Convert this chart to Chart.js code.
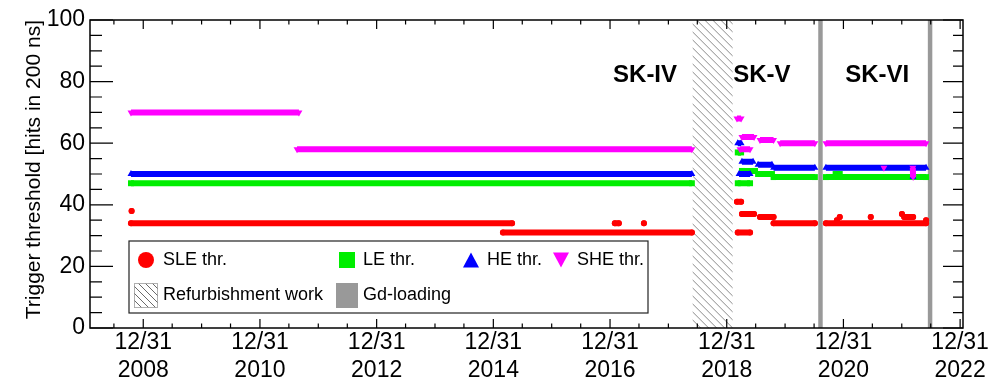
<!DOCTYPE html>
<html>
<head>
<meta charset="utf-8">
<script src="https://cdn.jsdelivr.net/npm/chart.js@4.4.1/dist/chart.umd.min.js"></script>
<style>
  html, body { margin: 0; padding: 0; background: #fff; }
</style>
</head>
<body>
<canvas id="chart" width="997" height="382"></canvas>
<script>
// Axis range and tick labels
const xStart = '2008-02-01';
const xEnd = '2023-01-18';
const tickDates = ['2008-12-31', '2010-12-31', '2012-12-31', '2014-12-31', '2016-12-31', '2018-12-31', '2020-12-31', '2022-12-31'];
const tickYears = ['2008', '2010', '2012', '2014', '2016', '2018', '2020', '2022'];

// Trigger thresholds; a null ends a stretch of constant setting
const sleDates = [
    '2008-10-19', null,
    '2008-10-15', '2015-04-27', null,
    '2015-03-01', '2018-05-27', null,
    '2017-01-30', '2017-02-24', null,
    '2017-07-31', null,
    '2019-03-10', '2019-05-26', null,
    '2019-03-05', '2019-03-31', null,
    '2019-04-05', '2019-06-20', null,
    '2019-07-27', '2019-10-20', null,
    '2019-10-20', '2020-07-05', null,
    '2020-09-12', '2022-06-01', null,
    '2020-11-20', null,
    '2020-12-08', null,
    '2021-06-20', null,
    '2022-01-01', null,
    '2022-01-15', '2022-03-12', null,
    '2022-06-01'
];
const sleValues = [
    38, null,
    34, 34, null,
    31, 31, null,
    34, 34, null,
    34, null,
    31, 31, null,
    41, 41, null,
    37, 37, null,
    36, 36, null,
    34, 34, null,
    34, 34, null,
    35, null,
    36, null,
    36, null,
    37, null,
    36, 36, null,
    35
];

const leDates = [
    '2008-10-15', '2018-05-27', null,
    '2019-03-10', '2019-03-31', null,
    '2019-03-10', '2019-05-26', null,
    '2019-04-05', '2019-06-26', null,
    '2019-07-15', '2019-10-10', null,
    '2019-10-20', '2020-07-05', null,
    '2020-09-12', '2022-06-01', null,
    '2020-11-12', '2020-12-08'
];
const leValues = [
    47, 47, null,
    57, 57, null,
    47, 47, null,
    51, 51, null,
    50, 50, null,
    49, 49, null,
    49, 49, null,
    50, 50
];

const heDates = [
    '2008-10-15', '2018-05-27', null,
    '2019-03-10', '2019-03-31', null,
    '2019-03-18', '2019-05-26', null,
    '2019-04-05', '2019-06-14', null,
    '2019-07-15', '2019-10-10', null,
    '2019-10-20', '2020-07-05', null,
    '2020-09-12', '2022-06-01', null,
    '2022-03-11'
];
const heValues = [
    50, 50, null,
    60, 60, null,
    50, 50, null,
    54, 54, null,
    53, 53, null,
    52, 52, null,
    52, 52, null,
    49
];

const sheDates = [
    '2008-10-15', '2011-09-01', null,
    '2011-08-20', '2018-05-27', null,
    '2019-03-05', '2019-03-31', null,
    '2019-03-24', '2019-05-26', null,
    '2019-04-05', '2019-06-20', null,
    '2019-07-27', '2019-10-20', null,
    '2019-11-30', '2020-07-05', null,
    '2020-09-12', '2022-06-01', null,
    '2021-09-10', null,
    '2022-03-10', '2022-03-12'
];
const sheValues = [
    70, 70, null,
    58, 58, null,
    68, 68, null,
    58, 58, null,
    62, 62, null,
    61, 61, null,
    60, 60, null,
    60, 60, null,
    52, null,
    52, 49
];

// Shaded periods and phase names
const refurbishment = ['2018-06-01', '2019-02-06'];
const gdLoading = [['2020-07-26', '2020-08-23'], ['2022-06-12', '2022-07-10']];
const phaseNames = ['SK-IV', 'SK-V', 'SK-VI'];
const phaseLabelDates = ['2017-08-07', '2019-08-08', '2021-07-30'];

const FONT = "'Liberation Sans', Arial, Helvetica, sans-serif";

function toYear(d) {
    const [y, m, day] = d.split('-').map(Number);
    const t0 = Date.UTC(y, 0, 1);
    const t1 = Date.UTC(y + 1, 0, 1);
    return y + (Date.UTC(y, m - 1, day) - t0) / (t1 - t0);
}

function toPoints(dates, values) {
    let lastX = toYear(xStart);
    return dates.map((d, i) => {
        if (d === null) return { x: lastX, y: null };
        lastX = toYear(d);
        return { x: lastX, y: values[i] };
    });
}

function series(label, dates, values, color, style, radius, order, extra) {
    return Object.assign({
        label: label,
        data: toPoints(dates, values),
        borderColor: color,
        backgroundColor: color,
        borderWidth: 6,
        pointStyle: style,
        pointRadius: radius,
        pointBorderWidth: 0,
        pointBackgroundColor: color,
        spanGaps: false,
        tension: 0,
        order: order
    }, extra || {});
}

function hatch(ctx, x0, y0, x1, y1, gap, color) {
    ctx.save();
    ctx.beginPath();
    ctx.rect(x0, y0, x1 - x0, y1 - y0);
    ctx.clip();
    ctx.strokeStyle = color;
    ctx.lineWidth = 1;
    ctx.beginPath();
    const h = y1 - y0;
    for (let k = x0 - h; k < x1; k += gap) {
        ctx.moveTo(k, y0);
        ctx.lineTo(k + h, y1);
    }
    ctx.stroke();
    ctx.restore();
}

function drawMarker(ctx, kind, cx, cy, color) {
    ctx.fillStyle = color;
    ctx.beginPath();
    if (kind === 'circle') {
        ctx.arc(cx, cy, 8, 0, Math.PI * 2);
    } else if (kind === 'rect') {
        ctx.rect(cx - 8, cy - 8, 16, 16);
    } else if (kind === 'up') {
        ctx.moveTo(cx, cy - 7.5);
        ctx.lineTo(cx + 8, cy + 7.5);
        ctx.lineTo(cx - 8, cy + 7.5);
    } else {
        ctx.moveTo(cx, cy + 7.5);
        ctx.lineTo(cx + 8, cy - 7.5);
        ctx.lineTo(cx - 8, cy - 7.5);
    }
    ctx.closePath();
    ctx.fill();
}

const decorations = {
    id: 'decorations',
    beforeDatasetsDraw(chart) {
        const { ctx, chartArea: a, scales: { x } } = chart;
        ctx.save();
        // Refurbishment period
        const r0 = x.getPixelForValue(toYear(refurbishment[0]));
        const r1 = x.getPixelForValue(toYear(refurbishment[1]));
        hatch(ctx, r0, a.top, r1, a.bottom, 8, '#8a8a8a');
        // Gd-loading periods
        ctx.fillStyle = '#999999';
        gdLoading.forEach(([s, e]) => {
            const p0 = x.getPixelForValue(toYear(s));
            const p1 = x.getPixelForValue(toYear(e));
            ctx.fillRect(p0, a.top, p1 - p0, a.bottom - a.top);
        });
        ctx.restore();
    },
    afterDraw(chart) {
        const { ctx, chartArea: a, scales: { x, y } } = chart;
        ctx.save();

        // Frame
        ctx.strokeStyle = '#000';
        ctx.lineWidth = 1.5;
        ctx.strokeRect(a.left, a.top, a.right - a.left, a.bottom - a.top);

        // Inward ticks on all four sides
        ctx.lineWidth = 1.2;
        ctx.beginPath();
        for (let yr = 2007; yr <= 2022; yr++) {
            ['-06-30', '-12-31'].forEach(suffix => {
                const px = x.getPixelForValue(toYear(yr + suffix));
                if (px < a.left || px > a.right) return;
                const len = (suffix === '-12-31' && yr % 2 === 0) ? 9 : 4.5;
                ctx.moveTo(px, a.bottom);
                ctx.lineTo(px, a.bottom - len);
                ctx.moveTo(px, a.top);
                ctx.lineTo(px, a.top + len);
            });
        }
        for (let v = 0; v <= 100; v += 5) {
            const py = y.getPixelForValue(v);
            const major = v % 20 === 0;
            ctx.moveTo(a.left, py);
            ctx.lineTo(a.left + (major ? 23 : 12), py);
            ctx.moveTo(a.right, py);
            ctx.lineTo(a.right - (major ? 20 : 10), py);
        }
        ctx.stroke();

        // Phase names
        ctx.fillStyle = '#000';
        ctx.font = 'bold 24px ' + FONT;
        ctx.textAlign = 'center';
        ctx.textBaseline = 'alphabetic';
        phaseNames.forEach((name, i) => {
            ctx.fillText(name, x.getPixelForValue(toYear(phaseLabelDates[i])), y.getPixelForValue(80));
        });

        // Legend
        const ds = chart.data.datasets;
        ctx.fillStyle = '#fff';
        ctx.fillRect(129, 241, 519, 72);
        ctx.strokeStyle = '#222';
        ctx.lineWidth = 1.2;
        ctx.strokeRect(129, 241, 519, 72);

        const row1 = 260, row2 = 295;
        drawMarker(ctx, 'circle', 146, row1, ds[0].borderColor);
        drawMarker(ctx, 'rect', 347, row1, ds[1].borderColor);
        drawMarker(ctx, 'up', 471, row1, ds[2].borderColor);
        drawMarker(ctx, 'down', 561, row1, ds[3].borderColor);

        ctx.strokeStyle = '#b0b0b0';
        ctx.lineWidth = 1;
        ctx.strokeRect(134.5, 283.5, 23, 24);
        hatch(ctx, 134.5, 283.5, 157.5, 307.5, 7, '#6a6a6a');
        ctx.fillStyle = '#999999';
        ctx.fillRect(336, 283, 22, 25);

        ctx.fillStyle = '#000';
        ctx.font = '18px ' + FONT;
        ctx.textAlign = 'left';
        ctx.textBaseline = 'middle';
        ctx.fillText(ds[0].label, 163, row1);
        ctx.fillText(ds[1].label, 363, row1);
        ctx.fillText(ds[2].label, 487, row1);
        ctx.fillText(ds[3].label, 577, row1);
        ctx.fillText('Refurbishment work', 163, row2);
        ctx.fillText('Gd-loading', 363, row2);

        ctx.restore();
    }
};

const ctx = document.getElementById('chart');
new Chart(ctx, {
    type: 'line',
    data: {
        datasets: [
            series('SLE thr.', sleDates, sleValues, '#ff0000', 'circle', 3, 4, { borderCapStyle: 'round' }),
            series('LE thr.', leDates, leValues, '#00ee00', 'rect', 4.2, 3),
            series('HE thr.', heDates, heValues, '#0000ff', 'triangle', 4, 2),
            series('SHE thr.', sheDates, sheValues, '#ff00ff', 'triangle', 4, 1, { pointRotation: 180 })
        ]
    },
    options: {
        responsive: false,
        animation: false,
        layout: { padding: { top: 20, right: 34, left: 0, bottom: 0 } },
        plugins: {
            legend: { display: false },
            tooltip: { enabled: false }
        },
        scales: {
            x: {
                type: 'linear',
                min: toYear(xStart),
                max: toYear(xEnd),
                grid: { display: false, drawTicks: false },
                border: { display: false },
                afterBuildTicks: scale => {
                    scale.ticks = tickDates.map(d => ({ value: toYear(d) }));
                },
                afterFit: scale => { scale.height = 54; },
                ticks: {
                    autoSkip: false,
                    maxRotation: 0,
                    padding: 1,
                    color: '#000',
                    font: { family: FONT, size: 23, lineHeight: 1.22 },
                    callback: (value, index) => ['12/31', tickYears[index]]
                }
            },
            y: {
                min: 0,
                max: 100,
                grid: { display: false, drawTicks: false },
                border: { display: false },
                afterFit: scale => { scale.width = 90; },
                ticks: {
                    stepSize: 20,
                    padding: 5,
                    color: '#000',
                    font: { family: FONT, size: 23 }
                },
                title: {
                    display: true,
                    text: 'Trigger threshold [hits in 200 ns]',
                    align: 'end',
                    color: '#000',
                    padding: { top: 22, bottom: 0 },
                    font: { family: FONT, size: 21 }
                }
            }
        }
    },
    plugins: [decorations]
});
</script>
</body>
</html>
